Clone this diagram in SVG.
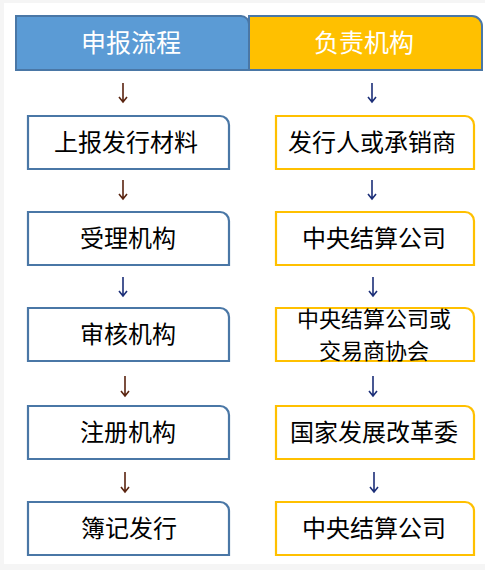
<svg xmlns="http://www.w3.org/2000/svg" width="485" height="570" viewBox="0 0 485 570">
<defs>
<style>
.t{font-family:"Noto Sans CJK SC","Microsoft YaHei",sans-serif;font-size:24px;text-anchor:middle;fill:#000}
.t2{font-family:"Noto Sans CJK SC","Microsoft YaHei",sans-serif;font-size:22px;text-anchor:middle;fill:#000}
.h{font-family:"Noto Sans CJK SC","Microsoft YaHei",sans-serif;font-size:25px;text-anchor:middle;fill:#fff}
.lb{fill:#fff;stroke:#4a77a6;stroke-width:2.2}
.rb{fill:#fff;stroke:#ffc000;stroke-width:2.2}
.ar{fill:none;stroke-width:1.6}
.r{stroke:#5a2410}
.b{stroke:#1c2f78}
</style>
</defs>
<rect x="0" y="0" width="485" height="570" fill="#f5f5f5"/>
<rect x="4" y="3" width="481" height="561" fill="#fff"/>
<g id="header-left">
<path d="M16 16 H241 A8 8 0 0 1 249 24 V70 H16 Z" fill="#5b9bd5" stroke="#4a77a6" stroke-width="2"/>
<text class="h" x="131" y="52">申报流程</text>
</g>
<g id="header-right">
<path d="M249 16 H472 A10 10 0 0 1 482 26 V70 H249 Z" fill="#ffc000" stroke="#4a77a6" stroke-width="2"/>
<text class="h" x="364" y="52">负责机构</text>
</g>
<g id="left-1"><path class="lb" d="M28 116 H220 A9 9 0 0 1 229 125 V169 H28 Z"/><text class="t" x="126" y="151">上报发行材料</text></g>
<g id="left-2"><path class="lb" d="M28 212 H220 A9 9 0 0 1 229 221 V265 H28 Z"/><text class="t" x="128" y="247">受理机构</text></g>
<g id="left-3"><path class="lb" d="M28 308 H220 A9 9 0 0 1 229 317 V361 H28 Z"/><text class="t" x="128" y="343">审核机构</text></g>
<g id="left-4"><path class="lb" d="M28 406 H220 A9 9 0 0 1 229 415 V459 H28 Z"/><text class="t" x="128" y="441">注册机构</text></g>
<g id="left-5"><path class="lb" d="M28 502 H220 A9 9 0 0 1 229 511 V555 H28 Z"/><text class="t" x="129" y="537">簿记发行</text></g>
<g id="right-1"><path class="rb" d="M276 116 H465 A9 9 0 0 1 474 125 V169 H276 Z"/><text class="t" x="372" y="151">发行人或承销商</text></g>
<g id="right-2"><path class="rb" d="M276 212 H465 A9 9 0 0 1 474 221 V265 H276 Z"/><text class="t" x="374" y="247">中央结算公司</text></g>
<g id="right-3"><path class="rb" d="M276 308 H465 A9 9 0 0 1 474 317 V361 H276 Z"/><text class="t2" x="374" y="326.5"><tspan x="374" y="326.5">中央结算公司或</tspan><tspan x="374" y="358.5">交易商协会</tspan></text></g>
<g id="right-4"><path class="rb" d="M276 406 H465 A9 9 0 0 1 474 415 V459 H276 Z"/><text class="t" x="374" y="441">国家发展改革委</text></g>
<g id="right-5"><path class="rb" d="M276 502 H465 A9 9 0 0 1 474 511 V555 H276 Z"/><text class="t" x="374" y="537">中央结算公司</text></g>
<g id="connectors">
<path class="ar r" d="M123 83 V102 M119 97 L123 102 L127 97"/>
<path class="ar r" d="M123 180 V199 M119 194 L123 199 L127 194"/>
<path class="ar b" d="M123 277 V296 M119 291 L123 296 L127 291"/>
<path class="ar r" d="M125 376 V396 M121 391 L125 396 L129 391"/>
<path class="ar r" d="M125 472 V492 M121 487 L125 492 L129 487"/>
<path class="ar b" d="M372 83 V102 M368 97 L372 102 L376 97"/>
<path class="ar b" d="M372 180 V199 M368 194 L372 199 L376 194"/>
<path class="ar b" d="M373 277 V296 M369 291 L373 296 L377 291"/>
<path class="ar b" d="M373 376 V396 M369 391 L373 396 L377 391"/>
<path class="ar b" d="M374 472 V492 M370 487 L374 492 L378 487"/>
</g>
</svg>
